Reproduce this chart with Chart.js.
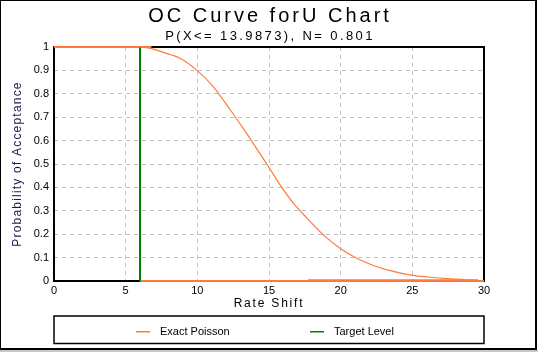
<!DOCTYPE html>
<html>
<head>
<meta charset="utf-8">
<script src="https://cdn.jsdelivr.net/npm/chart.js@4.4.1/dist/chart.umd.min.js"></script>
<style>
  html, body { margin: 0; padding: 0; background: #fff; }
  #c { display: block; }
</style>
</head>
<body>
<canvas id="c" width="538" height="352"></canvas>
<script>
// ── Data ───────────────────────────────────────────────
const TITLE    = 'OC Curve forU Chart';
const SUBTITLE = 'P(X<= 13.9873), N= 0.801';
const X_TITLE  = 'Rate Shift';
const Y_TITLE  = 'Probability of Acceptance';

const xTicks = [0, 5, 10, 15, 20, 25, 30];
const yTicks = [0, 0.1, 0.2, 0.3, 0.4, 0.5, 0.6, 0.7, 0.8, 0.9, 1];

// Exact Poisson OC curve
const poissonX = [0, 6, 6.8, 7.63, 8.79, 10, 11.12, 12.28, 13.45, 14.38, 15, 15.89, 16.8,
                  17.63, 18.79, 20, 21.12, 22.28, 23.45, 25, 26.24, 27.4, 28.6, 29.6, 30];
const poissonY = [1, 1, 0.993, 0.977, 0.952, 0.899, 0.83, 0.733, 0.63, 0.543, 0.485, 0.4, 0.325,
                  0.27, 0.197, 0.138, 0.097, 0.066, 0.044, 0.024, 0.016, 0.01, 0.006, 0.002, 0.001];
// traces of the same series lying on the plot frame
const topX    = [0, 6.8];
const topY    = [1, 1];
const floorX  = [6, 30];
const floorY  = [0, 0];
const floor2X = [17.7, 29.6];
const floor2Y = [0.003, 0.003];

// Target level marker
const targetX = [6, 6];
const targetY = [0, 1];

const ORANGE = '#ff7a3a';
const GREEN  = '#008000';
const FONT   = "'Liberation Sans', Arial, sans-serif";

const _pts = (xs, ys) => xs.map((x, i) => ({ x, y: ys[i] }));

// ── Plugins ────────────────────────────────────────────
const _framePlugin = {
  id: 'frame',
  beforeDatasetsDraw(chart) {
    const { ctx, chartArea: a } = chart;
    ctx.save();
    ctx.strokeStyle = '#000';
    ctx.lineWidth = 2;
    ctx.strokeRect(a.left, a.top, a.right - a.left, a.bottom - a.top);
    ctx.restore();
  },
};

const _textPlugin = {
  id: 'texts',
  afterDraw(chart) {
    const { ctx, chartArea: a, width } = chart;
    ctx.save();
    ctx.fillStyle = '#000';
    ctx.textAlign = 'center';
    ctx.textBaseline = 'alphabetic';

    ctx.font = `20px ${FONT}`;
    ctx.letterSpacing = '3px';
    ctx.fillText(TITLE, width / 2 + 1, 22);

    ctx.font = `13px ${FONT}`;
    ctx.letterSpacing = '2.4px';
    ctx.fillText(SUBTITLE, width / 2 + 1, 40);

    ctx.font = `12px ${FONT}`;
    ctx.letterSpacing = '1.8px';
    ctx.fillText(X_TITLE, (a.left + a.right) / 2, 307);

    ctx.save();
    ctx.translate(21, (a.top + a.bottom) / 2);
    ctx.rotate(-Math.PI / 2);
    ctx.letterSpacing = '1.2px';
    ctx.fillStyle = '#1a1a4a';
    ctx.fillText(Y_TITLE, 0, 0);
    ctx.restore();

    // legend box
    ctx.letterSpacing = '0px';
    ctx.strokeStyle = '#000';
    ctx.lineWidth = 1.5;
    ctx.strokeRect(a.left, 316, a.right - a.left, 27.5);
    const items = chart.data.datasets.filter(d => d.label);
    const slots = [136, 310];
    ctx.font = `11px ${FONT}`;
    ctx.textAlign = 'left';
    items.forEach((d, i) => {
      const x = slots[i];
      ctx.fillStyle = d.borderColor;
      ctx.fillRect(x, 331, 14, 1.5);
      ctx.fillStyle = '#000';
      ctx.fillText(d.label, x + 24, 335);
    });

    // outer frame
    ctx.fillStyle = '#000';
    ctx.fillRect(0, 0, 537, 1);
    ctx.fillRect(0, 0, 1, 350);
    ctx.fillRect(535, 0, 2, 350);
    ctx.fillRect(0, 348, 537, 2);
    ctx.fillStyle = '#c8c8c8';
    ctx.fillRect(0, 350, 538, 2);
    ctx.restore();
  },
};

// ── Scales ─────────────────────────────────────────────
const _TICK = { color: '#000', font: { family: FONT, size: 11 } };
const _gridColor = (lo, hi) => c =>
  (c.tick && (c.tick.value === lo || c.tick.value === hi)) ? 'rgba(0,0,0,0)' : '#c0c0c0';

const _trace = (xs, ys) => ({
  data: _pts(xs, ys),
  borderColor: ORANGE,
  borderWidth: 2,
  pointRadius: 0,
  clip: false,
});

new Chart(document.getElementById('c'), {
  type: 'line',
  data: {
    datasets: [
      {
        label: 'Exact Poisson',
        data: _pts(poissonX, poissonY),
        borderColor: ORANGE,
        borderWidth: 1.2,
        pointRadius: 0,
        cubicInterpolationMode: 'monotone',
      },
      {
        label: 'Target Level',
        data: _pts(targetX, targetY),
        borderColor: GREEN,
        borderWidth: 2,
        pointRadius: 0,
      },
      _trace(topX, topY),
      _trace(floorX, floorY),
      _trace(floor2X, floor2Y),
    ],
  },
  options: {
    responsive: false,
    animation: false,
    layout: { padding: { left: 10, right: 54, top: 47, bottom: 41 } },
    plugins: {
      legend: { display: false },
      tooltip: { enabled: false },
      title: { display: false },
    },
    scales: {
      x: {
        type: 'linear', min: 0, max: 30,
        afterBuildTicks: s => { s.ticks = xTicks.map(v => ({ value: v })); },
        afterFit: s => { s.height = 30; },
        ticks: { ..._TICK, padding: 3, maxRotation: 0, callback: v => String(v) },
        grid: { color: _gridColor(0, 30), drawTicks: false, lineWidth: 1 },
        border: { display: false, dash: [4, 4] },
      },
      y: {
        type: 'linear', min: 0, max: 1,
        afterBuildTicks: s => { s.ticks = yTicks.map(v => ({ value: v })); },
        afterFit: s => { s.width = 44; },
        ticks: { ..._TICK, padding: 5, callback: v => String(v) },
        grid: { color: _gridColor(0, 1), drawTicks: false, lineWidth: 1 },
        border: { display: false, dash: [4, 4] },
      },
    },
  },
  plugins: [_framePlugin, _textPlugin],
});
</script>
</body>
</html>
